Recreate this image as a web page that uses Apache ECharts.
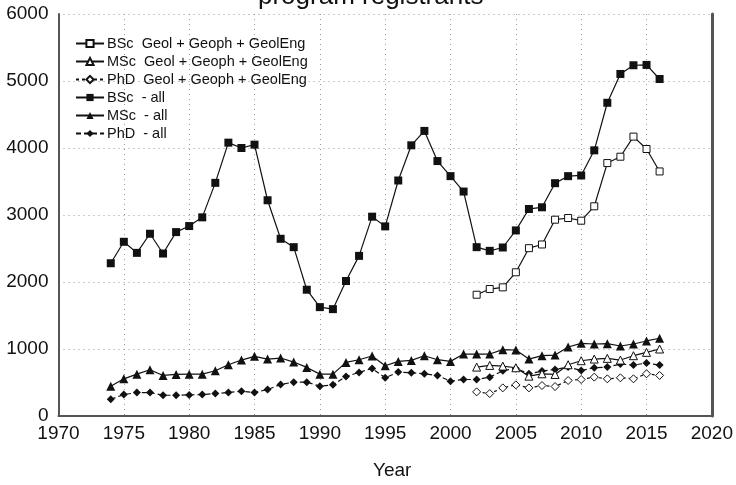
<!DOCTYPE html>
<html>
<head>
<meta charset="utf-8">
<script src="https://cdn.jsdelivr.net/npm/echarts@6/dist/echarts.min.js"></script>
<style>
  html, body { margin: 0; padding: 0; background: #fff; }
  #chart { width: 736px; height: 485px; }
</style>
</head>
<body>
<div id="chart"></div>
<script>
var yearsAll = [];
for (var y = 1974; y <= 2016; y++) yearsAll.push(y);
var yearsGeo = [];
for (var y2 = 2002; y2 <= 2016; y2++) yearsGeo.push(y2);

var bscAll = [2280, 2600, 2435, 2720, 2425, 2745, 2835, 2965, 3480, 4080, 4000, 4050, 3220, 2645, 2520,
  1885, 1625, 1595, 2015, 2390, 2975, 2830, 3515, 4040, 4255, 3805, 3580, 3350, 2520, 2465, 2515,
  2770, 3090, 3115, 3475, 3580, 3590, 3965, 4675, 5105, 5235, 5240, 5030];
var mscAll = [445, 555, 625, 690, 605, 620, 625, 625, 675, 765, 835, 890, 850, 865, 805,
  725, 625, 625, 800, 840, 895, 750, 815, 830, 900, 840, 815, 925, 925, 925, 990,
  985, 850, 900, 910, 1030, 1085, 1075, 1080, 1045, 1075, 1120, 1160];
var phdAll = [250, 320, 350, 350, 310, 310, 315, 320, 335, 350, 370, 350, 395, 470, 505,
  505, 445, 465, 590, 650, 710, 570, 655, 645, 630, 605, 520, 545, 545, 580, 675,
  710, 630, 670, 695, 730, 680, 720, 730, 775, 760, 790, 760];
var bscGeo = [1810, 1895, 1920, 2145, 2505, 2560, 2930, 2955, 2915, 3130, 3775, 3870, 4170, 3985, 3650];
var mscGeo = [730, 755, 745, 720, 595, 630, 620, 765, 825, 850, 860, 835, 900, 950, 1000];
var phdGeo = [360, 335, 420, 465, 420, 455, 440, 530, 545, 580, 555, 570, 555, 630, 605];

var seriesNames = [
  'BSc  Geol + Geoph + GeolEng',
  'MSc  Geol + Geoph + GeolEng',
  'PhD  Geol + Geoph + GeolEng',
  'BSc  - all',
  'MSc  - all',
  'PhD  - all'
];

var xTicks = [1970, 2020, 5];
var yTicks = [0, 6000, 1000];

var font = '"Liberation Sans", Arial, sans-serif';

function pairs(xs, vs) {
  var out = [];
  for (var i = 0; i < xs.length; i++) out.push([xs[i], vs[i]]);
  return out;
}

function plain(v) {
  return String(v);
}

function makeSeries(name, xs, vs, symbol, size, open, dash) {
  return {
    name: name,
    type: 'line',
    data: pairs(xs, vs),
    symbol: symbol,
    symbolSize: size,
    showAllSymbol: true,
    animation: false,
    lineStyle: { color: '#111', width: 1.2, type: dash || 'solid' },
    itemStyle: {
      color: open ? '#fff' : '#111',
      borderColor: '#111',
      borderWidth: open ? 1 : 0
    },
    emphasis: { disabled: true },
    z: open ? 4 : 3
  };
}

var chart = echarts.init(document.getElementById('chart'));

chart.setOption({
  backgroundColor: '#fff',
  animation: false,
  // title is cut off at the top edge in the original, so place it by hand
  graphic: [{
    type: 'text',
    x: 258,
    y: 10,
    silent: true,
    style: {
      text: 'program registrants',
      font: '26px "Liberation Sans", Arial, sans-serif',
      fill: '#111',
      verticalAlign: 'bottom'
    }
  }],
  legend: {
    orient: 'vertical',
    left: 70,
    top: 31,
    itemWidth: 28,
    itemHeight: 9,
    itemGap: 3,
    data: seriesNames,
    textStyle: { fontFamily: font, fontSize: 14.5, color: '#111', padding: [0, 0, 0, -2] }
  },
  grid: { left: 58.5, right: 22, top: 14, bottom: 64, containLabel: false },
  xAxis: [{
    type: 'value',
    min: xTicks[0],
    max: xTicks[1],
    interval: xTicks[2],
    name: 'Year',
    nameLocation: 'middle',
    nameGap: 45,
    nameTextStyle: { fontFamily: font, fontSize: 19, color: '#111', padding: [0, 0, 0, 14] },
    axisLine: { lineStyle: { color: '#555', width: 2 } },
    axisTick: { show: false },
    axisLabel: { fontFamily: font, fontSize: 19, color: '#111', margin: 8, formatter: plain },
    splitLine: { lineStyle: { color: '#999', type: [1, 4], width: 1 } }
  }, {
    type: 'value',
    position: 'top',
    min: xTicks[0],
    max: xTicks[1],
    axisLine: { show: true, lineStyle: { color: '#555', width: 1, type: [3, 1] } },
    axisTick: { show: false },
    axisLabel: { show: false },
    splitLine: { show: false }
  }],
  yAxis: [{
    type: 'value',
    min: yTicks[0],
    max: yTicks[1],
    interval: yTicks[2],
    axisLine: { show: true, lineStyle: { color: '#555', width: 2 } },
    axisTick: { show: false },
    axisLabel: { fontFamily: font, fontSize: 19, color: '#111', margin: 10, formatter: plain },
    splitLine: { lineStyle: { color: '#999', type: [1, 4], width: 1 } }
  }, {
    type: 'value',
    position: 'right',
    min: yTicks[0],
    max: yTicks[1],
    axisLine: { show: true, lineStyle: { color: '#555', width: 3 } },
    axisTick: { show: false },
    axisLabel: { show: false },
    splitLine: { show: false }
  }],
  series: [
    makeSeries(seriesNames[0], yearsGeo, bscGeo, 'rect', 7, true),
    makeSeries(seriesNames[1], yearsGeo, mscGeo, 'triangle', 8, true),
    makeSeries(seriesNames[2], yearsGeo, phdGeo, 'diamond', 8, true, [3, 3]),
    makeSeries(seriesNames[3], yearsAll, bscAll, 'rect', 8, false),
    makeSeries(seriesNames[4], yearsAll, mscAll, 'triangle', 9, false),
    makeSeries(seriesNames[5], yearsAll, phdAll, 'diamond', 8, false, [5, 3])
  ]
});
</script>
</body>
</html>
